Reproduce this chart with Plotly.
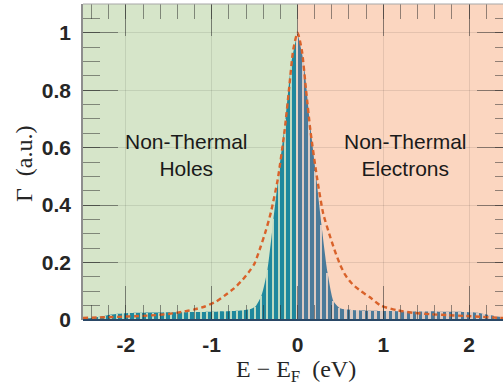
import plotly.graph_objects as go

# Energy axis of the spectrum (eV) and measured rate Γ (a.u.)
energy = [-2.45, -2.38, -2.31, -2.24, -2.17, -2.10, -2.03, -1.96, -1.89, -1.82,
          -1.75, -1.68, -1.61, -1.54, -1.47, -1.40, -1.33, -1.26, -1.19, -1.12,
          -1.05, -0.98, -0.91, -0.84, -0.77, -0.70, -0.63, -0.56, -0.49, -0.42,
          -0.35, -0.28, -0.21, -0.14, -0.07, 0.00, 0.07, 0.14, 0.21, 0.28,
          0.35, 0.42, 0.49, 0.56, 0.63, 0.70, 0.77, 0.84, 0.91, 0.98,
          1.05, 1.12, 1.19, 1.26, 1.33, 1.40, 1.47, 1.54, 1.61, 1.68,
          1.75, 1.82, 1.89, 1.96, 2.03, 2.10, 2.17, 2.24, 2.31, 2.38]
gamma = [0.006, 0.008, 0.011, 0.015, 0.019, 0.022, 0.023, 0.024, 0.025, 0.025,
         0.026, 0.026, 0.026, 0.027, 0.027, 0.027, 0.027, 0.028, 0.028, 0.028,
         0.029, 0.029, 0.030, 0.030, 0.031, 0.032, 0.034, 0.037, 0.047, 0.085,
         0.175, 0.35, 0.53, 0.70, 0.90, 1.00, 0.90, 0.70, 0.52, 0.33,
         0.165, 0.065, 0.042, 0.037, 0.035, 0.034, 0.033, 0.032, 0.032, 0.031,
         0.031, 0.031, 0.030, 0.030, 0.030, 0.030, 0.030, 0.030, 0.030, 0.029,
         0.029, 0.029, 0.029, 0.028, 0.027, 0.025, 0.021, 0.017, 0.013, 0.010]

# Reference (thermal) distribution, dashed
ref_energy = [-2.5, -2.3, -2.1, -1.9, -1.7, -1.5, -1.35, -1.2, -1.08, -0.95,
              -0.84, -0.74, -0.64, -0.56, -0.5, -0.43, -0.37, -0.31, -0.23, -0.15,
              -0.1, -0.05, 0.0, 0.05, 0.1, 0.15, 0.23, 0.3, 0.37, 0.43,
              0.5, 0.56, 0.64, 0.74, 0.84, 0.97, 1.16, 1.35, 1.55, 1.75,
              1.95, 2.15, 2.33, 2.4]
ref_gamma = [0.007, 0.009, 0.011, 0.013, 0.016, 0.021, 0.028, 0.037, 0.047, 0.064,
             0.087, 0.11, 0.14, 0.17, 0.197, 0.255, 0.31, 0.375, 0.49, 0.66,
             0.80, 0.94, 1.0, 0.94, 0.80, 0.66, 0.49, 0.37, 0.30, 0.245,
             0.19, 0.155, 0.125, 0.10, 0.08, 0.05, 0.034, 0.025, 0.02, 0.017,
             0.014, 0.011, 0.008, 0.007]

x_ticks = [-2, -1, 0, 1, 2]
x_labels = ["-2", "-1", "0", "1", "2"]
y_ticks = [0, 0.2, 0.4, 0.6, 0.8, 1]
y_labels = ["0", "0.2", "0.4", "0.6", "0.8", "1"]

X_RANGE = [-2.5, 2.395]
Y_RANGE = [0, 1.1]

GREEN_BG = "#d6e5c9"
ORANGE_BG = "#fbd6c0"
HOLE_FILL = "#1f889d"
ELEC_FILL = "#4b7a99"
DASH_COL = "#d9622a"

left = [(e, g) for e, g in zip(energy, gamma) if e <= 0]
right = [(e, g) for e, g in zip(energy, gamma) if e >= 0]

fig = go.Figure()

# filled spectrum, hole side and electron side
for pts, col in ((left, HOLE_FILL), (right, ELEC_FILL)):
    fig.add_trace(go.Scatter(
        x=[p[0] for p in pts], y=[p[1] for p in pts],
        mode="lines", line=dict(color=col, width=0, shape="spline", smoothing=0.6),
        fill="tozeroy", fillcolor=col, hoverinfo="skip", showlegend=False))

# thin light separators between the bins (overlay axes, drawn above the fills)
for pts, col in ((left, "#cfe2c6"), (right, "#ecd3c7")):
    fig.add_trace(go.Bar(
        x=[p[0] for p in pts], y=[p[1] for p in pts], width=0.022,
        xaxis="x2", yaxis="y2",
        marker=dict(color=col, line=dict(width=0)), opacity=0.9,
        hoverinfo="skip", showlegend=False))

# dashed reference curve
fig.add_trace(go.Scatter(
    x=ref_energy, y=ref_gamma, mode="lines", xaxis="x2", yaxis="y2",
    line=dict(color=DASH_COL, width=2.4, dash="5px,3.5px", shape="spline", smoothing=0.6),
    hoverinfo="skip", showlegend=False))

# shaded regions
fig.add_shape(type="rect", xref="x", yref="paper", x0=X_RANGE[0], x1=0, y0=0, y1=1,
              fillcolor=GREEN_BG, line=dict(width=0), layer="below")
fig.add_shape(type="rect", xref="x", yref="paper", x0=0, x1=X_RANGE[1], y0=0, y1=1,
              fillcolor=ORANGE_BG, line=dict(width=0), layer="below")
# frame: dark baseline and grey top edge
fig.add_shape(type="line", xref="paper", yref="paper", x0=0, x1=1, y0=0, y1=0,
              line=dict(color="#2a4866", width=2), layer="above")
fig.add_shape(type="line", xref="paper", yref="paper", x0=0, x1=1, y0=1, y1=1,
              line=dict(color="#a8a8a8", width=1.2), layer="above")

tick_col = "rgba(40,40,40,0.5)"
label_font = dict(family="Liberation Sans, Arial, sans-serif", size=21, color="#262626", weight="bold")

fig.update_layout(
    width=503, height=388,
    margin=dict(l=83, r=0, t=4, b=68),
    paper_bgcolor="white", plot_bgcolor="white",
    bargap=0, barmode="overlay",
    xaxis=dict(range=X_RANGE, tickvals=x_ticks, ticktext=x_labels, ticks="inside",
               ticklen=34, tickwidth=1, tickcolor=tick_col, tickfont=label_font,
               ticklabelstandoff=10,
               minor=dict(dtick=0.2, tick0=0, ticks="inside", ticklen=15, tickcolor=tick_col, tickwidth=1),
               showgrid=True, gridcolor="rgba(0,0,0,0.09)", gridwidth=1,
               showline=False, zeroline=False),
    yaxis=dict(range=Y_RANGE, tickvals=y_ticks, ticktext=y_labels, ticks="inside",
               ticklen=35, tickwidth=1, tickcolor=tick_col, tickfont=label_font,
               ticklabelstandoff=6,
               minor=dict(dtick=0.05, tick0=0, ticks="inside", ticklen=17, tickcolor=tick_col, tickwidth=1),
               showgrid=True, gridcolor="rgba(0,0,0,0.09)", gridwidth=1,
               showline=True, linecolor="#8e8e8e", linewidth=1.5, zeroline=False),
    xaxis2=dict(range=X_RANGE, overlaying="x", side="top", tickvals=x_ticks, showticklabels=False,
                ticks="inside", ticklen=32, tickwidth=1, tickcolor=tick_col,
                minor=dict(dtick=0.2, tick0=0, ticks="inside", ticklen=15, tickcolor=tick_col, tickwidth=1),
                showgrid=False, showline=False, zeroline=False),
    yaxis2=dict(range=Y_RANGE, overlaying="y", side="right", tickvals=y_ticks, showticklabels=False,
                ticks="inside", ticklen=26, tickwidth=1, tickcolor=tick_col,
                minor=dict(dtick=0.05, tick0=0, ticks="inside", ticklen=8, tickcolor=tick_col, tickwidth=1),
                showgrid=False, showline=False, zeroline=False),
)

text_font = dict(family="Liberation Sans, Arial, sans-serif", size=21, color="#1a1a1a")
fig.add_annotation(x=-1.29, y=0.575, xref="x", yref="y", text="Non-Thermal<br>Holes",
                   showarrow=False, font=text_font, align="center")
fig.add_annotation(x=1.26, y=0.575, xref="x", yref="y", text="Non-Thermal<br>Electrons",
                   showarrow=False, font=text_font, align="center")

title_font = dict(family="Liberation Serif, DejaVu Serif, serif", size=24, color="#262626")
fig.add_annotation(x=-0.02, y=-0.162, xref="x", yref="paper", text="E − E<sub>F</sub>  (eV)",
                   showarrow=False, font=title_font, xanchor="center", yanchor="middle")
fig.add_annotation(x=-0.14, y=0.494, xref="paper", yref="paper", text="Γ  (a.u.)",
                   showarrow=False, font=title_font, textangle=-90, xanchor="center", yanchor="middle")

fig.write_html("out.html")
